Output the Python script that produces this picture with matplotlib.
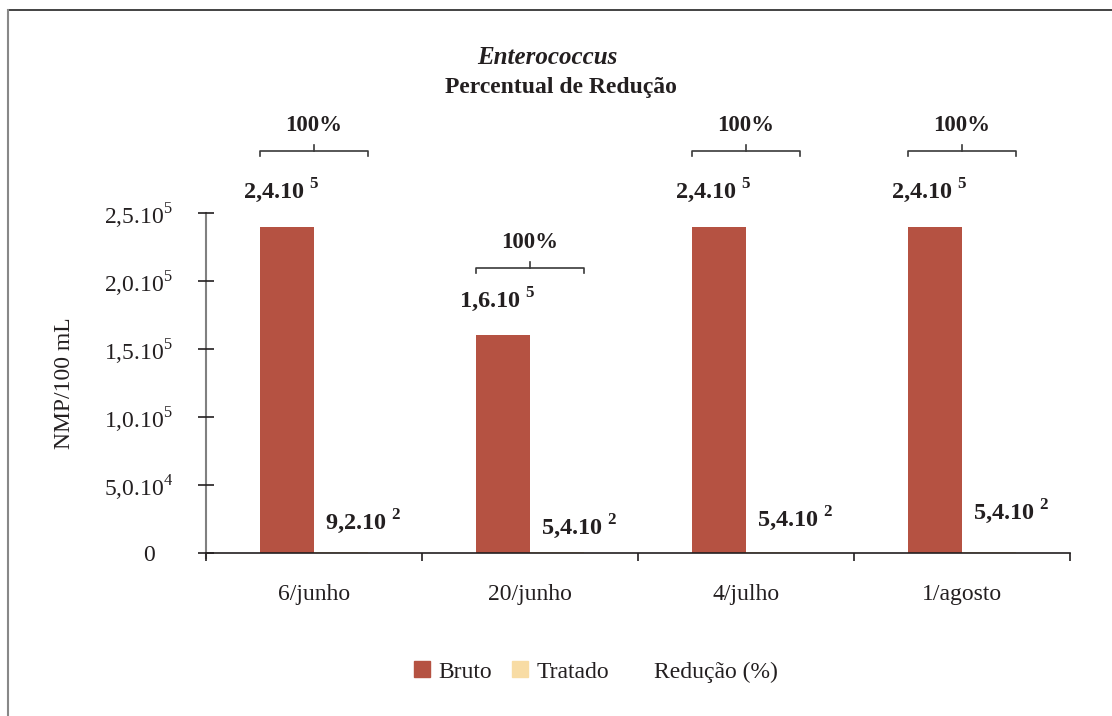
import numpy as np
import matplotlib
matplotlib.use("Agg")
import matplotlib.pyplot as plt
from matplotlib.lines import Line2D
from matplotlib.patches import Patch

plt.rcParams['font.family'] = 'Liberation Serif'
plt.rcParams['mathtext.fontset'] = 'custom'
plt.rcParams['mathtext.rm'] = 'Liberation Serif'
plt.rcParams['mathtext.bf'] = 'Liberation Serif:bold'

# data
datas = ['6/junho', '20/junho', '4/julho', '1/agosto']
bruto = [240000, 160000, 240000, 240000]
tratado = [920, 540, 540, 540]
bruto_txt = ['2,4.10', '1,6.10', '2,4.10', '2,4.10']
bruto_exp = ['5', '5', '5', '5']
tratado_txt = ['9,2.10', '5,4.10', '5,4.10', '5,4.10']
tratado_exp = ['2', '2', '2', '2']
reducao = ['100%', '100%', '100%', '100%']

yticks = [0, 50000, 100000, 150000, 200000, 250000]
yticklabels = ['0   ', '5,0.10$^{4}$', '1,0.10$^{5}$', '1,5.10$^{5}$',
               '2,0.10$^{5}$', '2,5.10$^{5}$']

# layout (label heights above the bars, in data units)
bracket_y = [295500, 209500, 295500, 295500]
trat_lab_y = [22800, 19100, 25000, 30100]

cor_bruto = '#b55242'
cor_trat = '#f8dca4'
txt = '#231f20'

fig = plt.figure(figsize=(11.12, 7.16), dpi=100)
ax = fig.add_axes([206/1112, 1-553/716, 864/1112, 340/716])

x = np.arange(len(datas))
w = 0.25
ax.bar(x - w/2, bruto, w, color=cor_bruto, label='Bruto')
ax.bar(x + w/2, tratado, w, color=cor_trat, label='Tratado')

ax.set_xlim(-0.5, len(datas) - 0.5)
ax.set_ylim(0, 250000)
ax.set_yticks(yticks)
ax.set_yticklabels(yticklabels, fontsize=17, color=txt)
ax.set_xticks(x)
ax.set_xticklabels(datas, fontsize=17, color=txt)
ax.set_xticks(np.arange(len(datas) + 1) - 0.5, minor=True)
ax.tick_params(axis='x', which='major', length=0, pad=22)
ax.tick_params(axis='x', which='minor', length=6, width=1.2, color=txt, direction='out')
ax.tick_params(axis='y', length=11.5, width=1.2, color=txt, direction='inout', pad=18)
for s in ['top', 'right']:
    ax.spines[s].set_visible(False)
ax.spines['left'].set_color('#808080')
ax.spines['left'].set_linewidth(1.5)
ax.spines['left'].set_bounds(-4000, 250000)
ax.spines['bottom'].set_color(txt)
ax.spines['bottom'].set_linewidth(1.2)
ax.spines['left'].set_zorder(0)
ax.set_ylabel('NMP/100 mL', fontsize=17, color=txt, labelpad=21)

for i in range(len(datas)):
    ax.text(x[i] - 0.15, bruto[i] + 26500,
            bruto_txt[i] + r' $^{\mathbf{' + bruto_exp[i] + '}}$',
            ha='center', va='center', fontsize=17.5, fontweight='bold',
            color=txt, clip_on=False)
    ax.text(x[i] + 0.23, trat_lab_y[i],
            tratado_txt[i] + r' $^{\mathbf{' + tratado_exp[i] + '}}$',
            ha='center', va='center', fontsize=17.5, fontweight='bold',
            color=txt)
    # bracket over the pair of bars
    yb = bracket_y[i]
    x0, x1 = x[i] - w, x[i] + w
    ax.plot([x0, x0, x1, x1], [yb - 3800, yb, yb, yb - 3800],
            color='#3a3a3a', lw=1.2, clip_on=False)
    ax.plot([x[i], x[i]], [yb, yb + 4200], color='#3a3a3a', lw=1.2, clip_on=False)
    ax.text(x[i], yb + 18500, reducao[i], ha='center', va='center',
            fontsize=16.5, fontweight='bold', color=txt, clip_on=False)

fig.text(547/1112, 1-57/716, 'Enterococcus', ha='center', va='center',
         fontsize=18, fontweight='bold', fontstyle='italic', color=txt)
fig.text(561/1112, 1-88/716, 'Percentual de Redução', ha='center', va='center',
         fontsize=17, fontweight='bold', color=txt)

handles = [Patch(color=cor_bruto), Patch(color=cor_trat),
           Patch(facecolor='none', edgecolor='none')]
fig.legend(handles, ['Bruto', 'Tratado', 'Redução (%)'], ncol=3,
           loc='center', bbox_to_anchor=(596/1112, 1-672/716), frameon=False,
           fontsize=17, handlelength=0.65, handleheight=0.65, handletextpad=0.38,
           columnspacing=0.85, labelcolor=txt)

# frame around the figure
fig.add_artist(Line2D([8/1112, 1], [1-10/716, 1-10/716], color='#222222', lw=1.2))
fig.add_artist(Line2D([8/1112, 8/1112], [0, 1-10/716], color='#888888', lw=1.5))

fig.savefig('out.png', dpi=100)
